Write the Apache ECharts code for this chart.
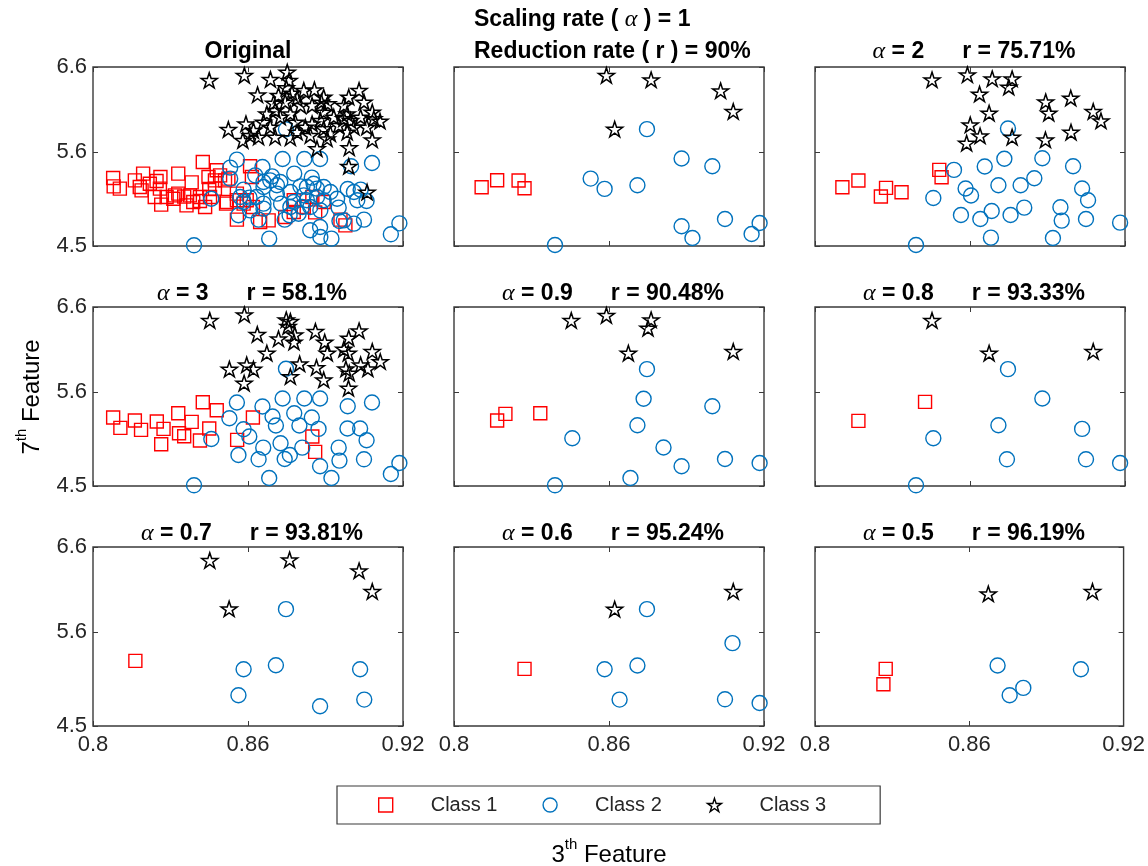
<!DOCTYPE html>
<html>
<head>
<meta charset="utf-8">
<script src="https://cdn.jsdelivr.net/npm/echarts@6/dist/echarts.min.js"></script>
<style>
  html, body { margin: 0; padding: 0; background: #ffffff; }
  #chart { width: 1148px; height: 866px; }
</style>
</head>
<body>
<div id="chart"></div>
<script>
// ---- axis ticks -------------------------------------------------------
const xTicks = [0.8, 0.86, 0.92];
const yTicks = [4.5, 5.6, 6.6];

// ---- panel titles -----------------------------------------------------
const alphaLabels = [null, '1', '2', '3', '0.9', '0.8', '0.7', '0.6', '0.5'];
const rateLabels  = [null, '90%', '75.71%', '58.1%', '90.48%', '93.33%', '93.81%', '95.24%', '96.19%'];

// ---- Original data (3rd feature, 7th feature) ---------------------------
const originalClass1 = [
  [0.8078,5.298],[0.8080,5.200],[0.8104,5.173],[0.8162,5.270],[0.8194,5.349],[0.8188,5.153],
  [0.8246,5.262],[0.8259,5.173],[0.8261,5.309],[0.8330,5.349],[0.8382,5.247],[0.8425,5.485],
  [0.8479,5.388],[0.8447,5.309],[0.8472,5.270],[0.8492,5.329],[0.8511,5.270],[0.8330,5.114],
  [0.8353,5.079],[0.8450,5.169],[0.8414,5.028],[0.8264,4.985],[0.8317,5.094],[0.8362,4.977],
  [0.8285,5.075],[0.8239,5.075],[0.8388,5.016],[0.8434,4.957],[0.8518,5.016],[0.8557,5.036],
  [0.8595,5.036],[0.8615,5.309],[0.8583,4.997],[0.8619,4.957],[0.8557,4.809],[0.8647,4.781],
  [0.8680,4.801],[0.8744,4.840],[0.8777,4.899],[0.8816,4.957],[0.8777,5.036],[0.8849,5.075],
  [0.8860,4.895],[0.8893,5.016],[0.8958,4.809],[0.8977,4.742],[0.8608,5.435],[0.8472,5.173],
  [0.8557,5.114],[0.8181,5.192],[0.8220,5.231],[0.8311,5.055],[0.8375,5.094],[0.8414,5.075],
  [0.8453,5.075],[0.8515,4.997],[0.8524,5.290]
];
const originalClass2 = [
  [0.8747,5.869],[0.8557,5.513],[0.8531,5.419],[0.8656,5.427],[0.8734,5.521],[0.8818,5.521],
  [0.8879,5.521],[0.9080,5.474],[0.8999,5.435],[0.8531,5.290],[0.8693,5.317],[0.8779,5.349],
  [0.8847,5.302],[0.8712,5.212],[0.8803,5.200],[0.8583,5.161],[0.8867,5.173],[0.8986,5.169],
  [0.9036,5.161],[0.8606,5.067],[0.9059,5.028],[0.8458,5.055],[0.8728,4.997],[0.8660,4.938],
  [0.8810,4.957],[0.8951,4.950],[0.8563,4.860],[0.8761,4.860],[0.8742,4.809],[0.8641,4.809],
  [0.8954,4.793],[0.9049,4.809],[0.8879,4.723],[0.9186,4.766],[0.9153,4.637],[0.8682,4.586],
  [0.8923,4.586],[0.8391,4.508],[0.8841,4.684],[0.8880,4.605],[0.8816,5.094],[0.8764,5.133],
  [0.8712,5.114],[0.8660,5.192],[0.8634,5.075],[0.8660,4.997],[0.8570,5.075],[0.8893,5.036],
  [0.8841,4.957],[0.8945,5.055],[0.9010,5.133],[0.9023,5.036],[0.8971,4.801],[0.9010,4.762],
  [0.8777,5.016],[0.8893,5.192],[0.8854,5.231],[0.8828,5.192],[0.8686,5.270],[0.8725,5.251],
  [0.8628,5.329],[0.8660,5.251],[0.8764,4.957],[0.8796,4.879],[0.8583,5.016],[0.8608,4.918],
  [0.8919,5.133],[0.8880,4.918],[0.8828,5.036],[0.8867,5.075]
];
const originalClass3 = [
  [0.8450,6.444],[0.8586,6.502],[0.8687,6.455],[0.8752,6.541],[0.8759,6.444],[0.8748,6.358],
  [0.8637,6.275],[0.8718,6.268],[0.8770,6.295],[0.8816,6.326],[0.8857,6.334],[0.8893,6.248],
  [0.8884,6.189],[0.8790,6.228],[0.8744,6.189],[0.8699,6.178],[0.8803,6.150],[0.8848,6.150],
  [0.8909,6.170],[0.8990,6.248],[0.9030,6.326],[0.8971,6.150],[0.8984,6.052],[0.8971,5.994],
  [0.9049,6.189],[0.9081,6.072],[0.9111,5.966],[0.9060,5.896],[0.9081,5.747],[0.8997,5.974],
  [0.9010,5.896],[0.8984,5.837],[0.8951,5.916],[0.8919,5.818],[0.8906,5.759],[0.8867,5.642],
  [0.8992,5.654],[0.8990,5.435],[0.9061,5.133],[0.8524,5.869],[0.8592,5.935],[0.8580,5.740],
  [0.8641,5.779],[0.8673,6.052],[0.8705,6.092],[0.8725,6.013],[0.8764,6.052],[0.8783,5.955],
  [0.8822,5.896],[0.8848,5.935],[0.8880,5.974],[0.8893,5.877],[0.8841,5.798],[0.8790,5.837],
  [0.8764,5.771],[0.8705,5.779],[0.8660,5.955],[0.8686,5.896],[0.8621,5.857],[0.8608,5.798],
  [0.8893,6.072],[0.8932,6.013],[0.9036,6.013],[0.9087,5.994]
];

// ---- alpha = 1 ----------------------------------------------------------
const alpha1Class1 = [[0.8107,5.190],[0.8167,5.272],[0.8250,5.268],[0.8273,5.178]];
const alpha1Class2 = [
  [0.8747,5.871],[0.8881,5.526],[0.9000,5.436],[0.8529,5.291],[0.8583,5.170],[0.8710,5.213],
  [0.9049,4.817],[0.9183,4.770],[0.8881,4.731],[0.8923,4.594],[0.9152,4.641],[0.8391,4.512]
];
const alpha1Class3 = [[0.8590,6.502],[0.8763,6.451],[0.9032,6.322],[0.9081,6.079],[0.8622,5.871]];

// ---- alpha = 2 ----------------------------------------------------------
const alpha2Class1 = [
  [0.8106,5.190],[0.8168,5.268],[0.8275,5.182],[0.8255,5.080],[0.8335,5.131],[0.8481,5.393],[0.8490,5.307]
];
const alpha2Class2 = [
  [0.8747,5.879],[0.8733,5.523],[0.8880,5.530],[0.8657,5.432],[0.8538,5.393],[0.8999,5.436],
  [0.8849,5.295],[0.8710,5.213],[0.8796,5.213],[0.8583,5.174],[0.8604,5.092],[0.9034,5.174],
  [0.9057,5.037],[0.8458,5.064],[0.8950,4.954],[0.8810,4.950],[0.8684,4.911],[0.8565,4.864],
  [0.8640,4.817],[0.8757,4.864],[0.8955,4.798],[0.9049,4.817],[0.9181,4.774],[0.8681,4.598],
  [0.8921,4.594],[0.8391,4.512]
];
const alpha2Class3 = [
  [0.8453,6.451],[0.8590,6.510],[0.8686,6.463],[0.8763,6.463],[0.8750,6.365],[0.8637,6.283],
  [0.8674,6.059],[0.8893,6.193],[0.8990,6.236],[0.9077,6.079],[0.8905,6.059],[0.9107,5.969],
  [0.8601,5.922],[0.8639,5.793],[0.8763,5.777],[0.8587,5.707],[0.8892,5.746],[0.8991,5.836]
];

// ---- alpha = 3 ----------------------------------------------------------
const alpha3Class1 = [
  [0.8078,5.303],[0.8106,5.182],[0.8162,5.268],[0.8186,5.158],[0.8247,5.256],[0.8273,5.170],
  [0.8330,5.354],[0.8382,5.252],[0.8425,5.483],[0.8479,5.389],[0.8333,5.119],[0.8353,5.084],
  [0.8450,5.174],[0.8414,5.033],[0.8264,4.990],[0.8558,5.041],[0.8619,5.303],[0.8849,5.080],
  [0.8860,4.900]
];
const alpha3Class2 = [
  [0.8747,5.875],[0.8557,5.479],[0.8656,5.432],[0.8734,5.526],[0.8818,5.526],[0.8879,5.526],
  [0.8986,5.436],[0.9080,5.479],[0.8528,5.295],[0.8695,5.315],[0.8779,5.354],[0.8847,5.303],
  [0.8708,5.209],[0.8799,5.209],[0.8583,5.166],[0.8873,5.170],[0.8985,5.174],[0.9034,5.174],
  [0.8605,5.080],[0.9059,5.037],[0.8458,5.052],[0.8726,5.001],[0.8659,4.950],[0.8810,4.950],
  [0.8951,4.950],[0.8563,4.864],[0.8762,4.864],[0.8742,4.817],[0.8641,4.813],[0.8954,4.798],
  [0.9049,4.813],[0.8879,4.731],[0.9186,4.770],[0.9153,4.641],[0.8682,4.594],[0.8923,4.594],
  [0.8391,4.508]
];
const alpha3Class3 = [
  [0.8452,6.443],[0.8586,6.510],[0.8748,6.451],[0.8764,6.432],[0.8755,6.373],[0.8636,6.279],
  [0.8718,6.228],[0.8781,6.275],[0.8778,6.189],[0.8861,6.314],[0.8897,6.189],[0.8907,6.059],
  [0.8990,6.236],[0.9030,6.322],[0.8971,6.106],[0.8988,6.059],[0.9081,6.079],[0.8673,6.059],
  [0.8800,5.934],[0.8865,5.891],[0.8893,5.746],[0.8528,5.871],[0.8595,5.922],[0.8621,5.871],
  [0.8585,5.707],[0.8764,5.785],[0.8979,5.875],[0.8992,5.824],[0.9036,5.922],[0.9064,5.875],
  [0.9112,5.961],[0.8989,5.648]
];

// ---- alpha = 0.9 --------------------------------------------------------
const alpha09Class1 = [[0.8167,5.268],[0.8199,5.346],[0.8334,5.354]];
const alpha09Class2 = [
  [0.8747,5.871],[0.8734,5.523],[0.9000,5.436],[0.8710,5.213],[0.8458,5.060],[0.8811,4.951],
  [0.8881,4.731],[0.9049,4.817],[0.9183,4.770],[0.8683,4.594],[0.8391,4.508]
];
const alpha09Class3 = [[0.8454,6.443],[0.8590,6.502],[0.8763,6.451],[0.8751,6.353],[0.8675,6.059],[0.9081,6.079]];

// ---- alpha = 0.8 --------------------------------------------------------
const alpha08Class1 = [[0.8168,5.264],[0.8426,5.487]];
const alpha08Class2 = [
  [0.8747,5.871],[0.8880,5.526],[0.8710,5.213],[0.9034,5.170],[0.8458,5.060],[0.8743,4.813],
  [0.9049,4.813],[0.9181,4.770],[0.8391,4.508]
];
const alpha08Class3 = [[0.8453,6.443],[0.8674,6.059],[0.9077,6.079]];

// ---- alpha = 0.7 --------------------------------------------------------
const alpha07Class1 = [[0.8164,5.264]];
const alpha07Class2 = [[0.8747,5.871],[0.8583,5.166],[0.8708,5.213],[0.9034,5.166],[0.8563,4.860],[0.9050,4.810],[0.8879,4.731]];
const alpha07Class3 = [[0.8452,6.443],[0.8761,6.451],[0.9030,6.322],[0.9081,6.079],[0.8527,5.875]];

// ---- alpha = 0.6 --------------------------------------------------------
const alpha06Class1 = [[0.8273,5.170]];
const alpha06Class2 = [[0.8747,5.871],[0.9078,5.472],[0.8583,5.166],[0.8710,5.209],[0.8641,4.810],[0.9049,4.813],[0.9183,4.770]];
const alpha06Class3 = [[0.8622,5.871],[0.9081,6.079]];

// ---- alpha = 0.5 --------------------------------------------------------
const alpha05Class1 = [[0.8275,5.170],[0.8266,4.990]];
const alpha05Class2 = [[0.8710,5.209],[0.9034,5.166],[0.8810,4.947],[0.8757,4.860]];
const alpha05Class3 = [[0.8674,6.051],[0.9079,6.079]];

const panels = [
  [originalClass1, originalClass2, originalClass3],
  [alpha1Class1, alpha1Class2, alpha1Class3],
  [alpha2Class1, alpha2Class2, alpha2Class3],
  [alpha3Class1, alpha3Class2, alpha3Class3],
  [alpha09Class1, alpha09Class2, alpha09Class3],
  [alpha08Class1, alpha08Class2, alpha08Class3],
  [alpha07Class1, alpha07Class2, alpha07Class3],
  [alpha06Class1, alpha06Class2, alpha06Class3],
  [alpha05Class1, alpha05Class2, alpha05Class3]
];

// ---- styling ------------------------------------------------------------
const FONT = '"Liberation Sans", Arial, Helvetica, sans-serif';
const AXIS_COLOR = '#3a3a3a';
const LABEL_COLOR = '#262626';
const CRIMSON = '#a51d36';
const NAVY = '#1f3a5e';
const STAR = 'path://M50 0 L61.23 34.55 L97.55 34.55 L68.17 55.9 L79.39 90.45 L50 69.1 L20.61 90.45 L31.83 55.9 L2.45 34.55 L38.77 34.55 Z';

const classStyles = [
  { name: 'Class 1', symbol: 'rect',   size: 13, color: '#ff0000', width: 1.4 },
  { name: 'Class 2', symbol: 'circle', size: 15, color: '#0072bd', width: 1.4 },
  { name: 'Class 3', symbol: STAR,     size: 16, color: '#000000', width: 1.5 }
];

const colLeft = [93, 454, 815];
const rowTop = [67, 307, 547];
const PW = 310, PH = 179;

const grids = [], xAxes = [], yAxes = [], series = [];

panels.forEach((panel, i) => {
  const r = Math.floor(i / 3), c = i % 3;
  grids.push({
    left: colLeft[c], top: rowTop[r], width: PW, height: PH,
    show: true, borderColor: AXIS_COLOR, borderWidth: 1.4, backgroundColor: '#ffffff'
  });
  const tick = { show: true, inside: true, length: 5, lineStyle: { color: AXIS_COLOR, width: 1 } };
  ['bottom', 'top'].forEach(pos => {
    xAxes.push({
      gridIndex: i, type: 'value', position: pos, min: 0.8, max: 0.92, interval: 0.06,
      axisLine: { show: false }, splitLine: { show: false },
      axisTick: Object.assign({ customValues: xTicks }, tick),
      axisLabel: {
        show: pos === 'bottom' && r === 2, customValues: xTicks, margin: 8,
        fontSize: 22, fontFamily: FONT, color: LABEL_COLOR,
        formatter: v => String(+(+v).toFixed(2))
      }
    });
  });
  ['left', 'right'].forEach(pos => {
    yAxes.push({
      gridIndex: i, type: 'value', position: pos, min: 4.5, max: 6.6,
      axisLine: { show: false }, splitLine: { show: false },
      axisTick: Object.assign({ customValues: yTicks }, tick),
      axisLabel: {
        show: pos === 'left' && c === 0, customValues: yTicks, margin: 6,
        fontSize: 22, fontFamily: FONT, color: LABEL_COLOR,
        formatter: v => (+v).toFixed(1)
      }
    });
  });
  panel.forEach((pts, k) => {
    const s = classStyles[k];
    series.push({
      type: 'scatter', name: s.name,
      xAxisIndex: 2 * i, yAxisIndex: 2 * i,
      data: pts, symbol: s.symbol, symbolSize: s.size, symbolKeepAspect: true,
      clip: false, silent: true,
      itemStyle: { color: 'rgba(255,255,255,0)', borderColor: s.color, borderWidth: s.width, opacity: 1 },
      emphasis: { disabled: true }
    });
  });
});

// ---- titles and axis names ------------------------------------------------
const TITLE_SIZE = 23;
const rich = {
  a: { fontFamily: '"Liberation Serif", "Times New Roman", serif', fontStyle: 'italic', fontSize: 24, color: CRIMSON },
  b: { fontFamily: FONT, fontWeight: 'bold', fontSize: TITLE_SIZE, color: CRIMSON },
  g: { width: 38, fontSize: TITLE_SIZE },
  c: { fontFamily: FONT, fontWeight: 'bold', fontSize: TITLE_SIZE, color: NAVY },
  k: { fontFamily: FONT, fontWeight: 'bold', fontSize: TITLE_SIZE, color: '#111111' }
};

const graphics = [];
const colCenter = colLeft.map(x => x + PW / 2);
const titleY = [52, 294, 534];

graphics.push({ type: 'text', x: colCenter[0], y: titleY[0],
  style: { text: '{k|Original}', rich, align: 'center', verticalAlign: 'middle' } });
// the two heading lines of the middle column share a left edge
graphics.push({ type: 'text', x: 474, y: 20,
  style: { text: '{b|Scaling rate ( }{a|α}{b| ) = 1}', rich, align: 'left', verticalAlign: 'middle' } });
graphics.push({ type: 'text', x: 474, y: titleY[0],
  style: { text: '{c|Reduction rate ( r ) = ' + rateLabels[1] + '}', rich, align: 'left', verticalAlign: 'middle' } });
for (let i = 2; i < 9; i++) {
  const r = Math.floor(i / 3), c = i % 3;
  graphics.push({ type: 'text', x: colCenter[c] + 4, y: titleY[r],
    style: {
      text: '{a|α}{b| = ' + alphaLabels[i] + '}{g| }{c|r = ' + rateLabels[i] + '}',
      rich, align: 'center', verticalAlign: 'middle'
    } });
}

const axisRich = {
  n: { fontFamily: FONT, fontSize: 24, color: LABEL_COLOR, lineHeight: 30, verticalAlign: 'bottom' },
  s: { fontFamily: FONT, fontSize: 15, color: LABEL_COLOR, lineHeight: 30, verticalAlign: 'top', padding: [0, 0, 10, 0] }
};
graphics.push({ type: 'text', x: 609, y: 852,
  style: { text: '{n|3}{s|th}{n| Feature}', rich: axisRich, align: 'center', verticalAlign: 'middle' } });
graphics.push({ type: 'text', x: 29, y: 397, rotation: Math.PI / 2,
  style: { text: '{n|7}{s|th}{n| Feature}', rich: axisRich, align: 'center', verticalAlign: 'middle' } });

const chart = echarts.init(document.getElementById('chart'), null, { renderer: 'canvas' });
chart.setOption({
  animation: false,
  backgroundColor: '#ffffff',
  grid: grids,
  xAxis: xAxes,
  yAxis: yAxes,
  series: series,
  legend: {
    data: classStyles.map(s => s.name),
    left: 337, top: 786, orient: 'horizontal',
    itemWidth: 14, itemHeight: 14, itemGap: 45,
    padding: [9, 54, 9, 41],
    borderColor: AXIS_COLOR, borderWidth: 1.2,
    selectedMode: false,
    itemStyle: { borderWidth: 1.4 },
    textStyle: { fontFamily: FONT, fontSize: 20, color: LABEL_COLOR, padding: [0, 0, 0, 33] }
  },
  graphic: graphics
});
</script>
</body>
</html>
